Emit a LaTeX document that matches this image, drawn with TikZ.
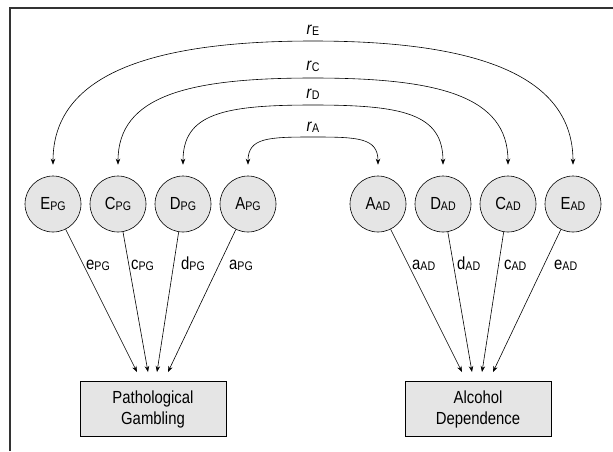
\documentclass[tikz,border=0pt]{standalone}
\usepackage{fontspec}
\setmainfont{Liberation Sans}[FakeStretch=0.85]
\usetikzlibrary{arrows.meta}
\newcommand{\sbs}[1]{\raisebox{-1.5pt}{\fontsize{12.5}{12.5}\selectfont #1}}
\begin{document}
\begin{tikzpicture}[x=1pt,y=-1pt,
  lat/.style={circle, draw, line width=0.6pt, fill=gray!20, minimum size=56pt, inner sep=0pt, font=\fontsize{17.5}{20}\selectfont},
  obs/.style={draw, line width=0.6pt, fill=gray!20, minimum width=146pt, minimum height=55pt, align=center, font=\fontsize{17.5}{21}\selectfont},
  arr/.style={-{Stealth[length=6pt,width=4.5pt]}, line width=0.6pt},
  dbl/.style={{Stealth[length=6pt,width=4.5pt]}-{Stealth[length=6pt,width=4.5pt]}, line width=0.6pt, shorten <=11pt, shorten >=11pt},
  lbl/.style={font=\fontsize{17.5}{20}\selectfont, inner sep=0pt}]
\useasboundingbox (0,0) rectangle (613,451);
\draw[line width=1.5pt, black!80] (10,451) -- (10,8) -- (613,8);
% latent nodes
\node[lat] (EPG) at (53,204) {E\sbs{PG}};
\node[lat] (CPG) at (118,204) {C\sbs{PG}};
\node[lat] (DPG) at (183,204) {D\sbs{PG}};
\node[lat] (APG) at (248,204) {A\sbs{PG}};
\node[lat] (AAD) at (378,204) {A\sbs{AD}};
\node[lat] (DAD) at (443,204) {D\sbs{AD}};
\node[lat] (CAD) at (508,204) {C\sbs{AD}};
\node[lat] (EAD) at (573,204) {E\sbs{AD}};
% observed
\node[obs] (PG) at (153,409) {Pathological\\Gambling};
\node[obs] (AD) at (478,409) {Alcohol\\Dependence};
% correlation arcs
\coordinate (topA) at (313,137);
\coordinate (topD) at (313,105);
\coordinate (topC) at (313,78);
\coordinate (topE) at (313,41);
\draw[dbl] (APG.north) .. controls +(0,-38) and +(-45,0) .. (topA) .. controls +(45,0) and +(0,-38) .. (AAD.north);
\draw[dbl] (DPG.north) .. controls +(0,-62) and +(-90,0) .. (topD) .. controls +(90,0) and +(0,-62) .. (DAD.north);
\draw[dbl] (CPG.north) .. controls +(0,-80) and +(-125,0) .. (topC) .. controls +(125,0) and +(0,-80) .. (CAD.north);
\draw[dbl] (EPG.north) .. controls +(0,-100) and +(-165,0) .. (topE) .. controls +(165,0) and +(0,-100) .. (EAD.north);
\node[lbl, anchor=south] (rA) at (313,133) {\textit{r}\sbs{A}};
\node[lbl, anchor=south] (rD) at (313,100) {\textit{r}\sbs{D}};
\node[lbl, anchor=south] (rC) at (313,72) {\textit{r}\sbs{C}};
\node[lbl, anchor=south] (rE) at (313,36) {\textit{r}\sbs{E}};
% path arrows
\coordinate (pg1) at (137,372);
\coordinate (pg2) at (148,372);
\coordinate (pg3) at (157,372);
\coordinate (pg4) at (168,372);
\coordinate (ad1) at (462,372);
\coordinate (ad2) at (472,372);
\coordinate (ad3) at (482,372);
\coordinate (ad4) at (493,372);
\draw[arr] (EPG) -- (pg1);
\draw[arr] (CPG) -- (pg2);
\draw[arr] (DPG) -- (pg3);
\draw[arr] (APG) -- (pg4);
\draw[arr] (AAD) -- (ad1);
\draw[arr] (DAD) -- (ad2);
\draw[arr] (CAD) -- (ad3);
\draw[arr] (EAD) -- (ad4);
\node[lbl, anchor=base west] (le) at (86,269) {e\sbs{PG}};
\node[lbl, anchor=base west] (lc) at (131,269) {c\sbs{PG}};
\node[lbl, anchor=base west] (ld) at (181,269) {d\sbs{PG}};
\node[lbl, anchor=base west] (la) at (229,269) {a\sbs{PG}};
\node[lbl, anchor=base west] (laa) at (412,269) {a\sbs{AD}};
\node[lbl, anchor=base west] (lda) at (457,269) {d\sbs{AD}};
\node[lbl, anchor=base west] (lca) at (504,269) {c\sbs{AD}};
\node[lbl, anchor=base west] (lea) at (554,269) {e\sbs{AD}};
\end{tikzpicture}
\end{document}
